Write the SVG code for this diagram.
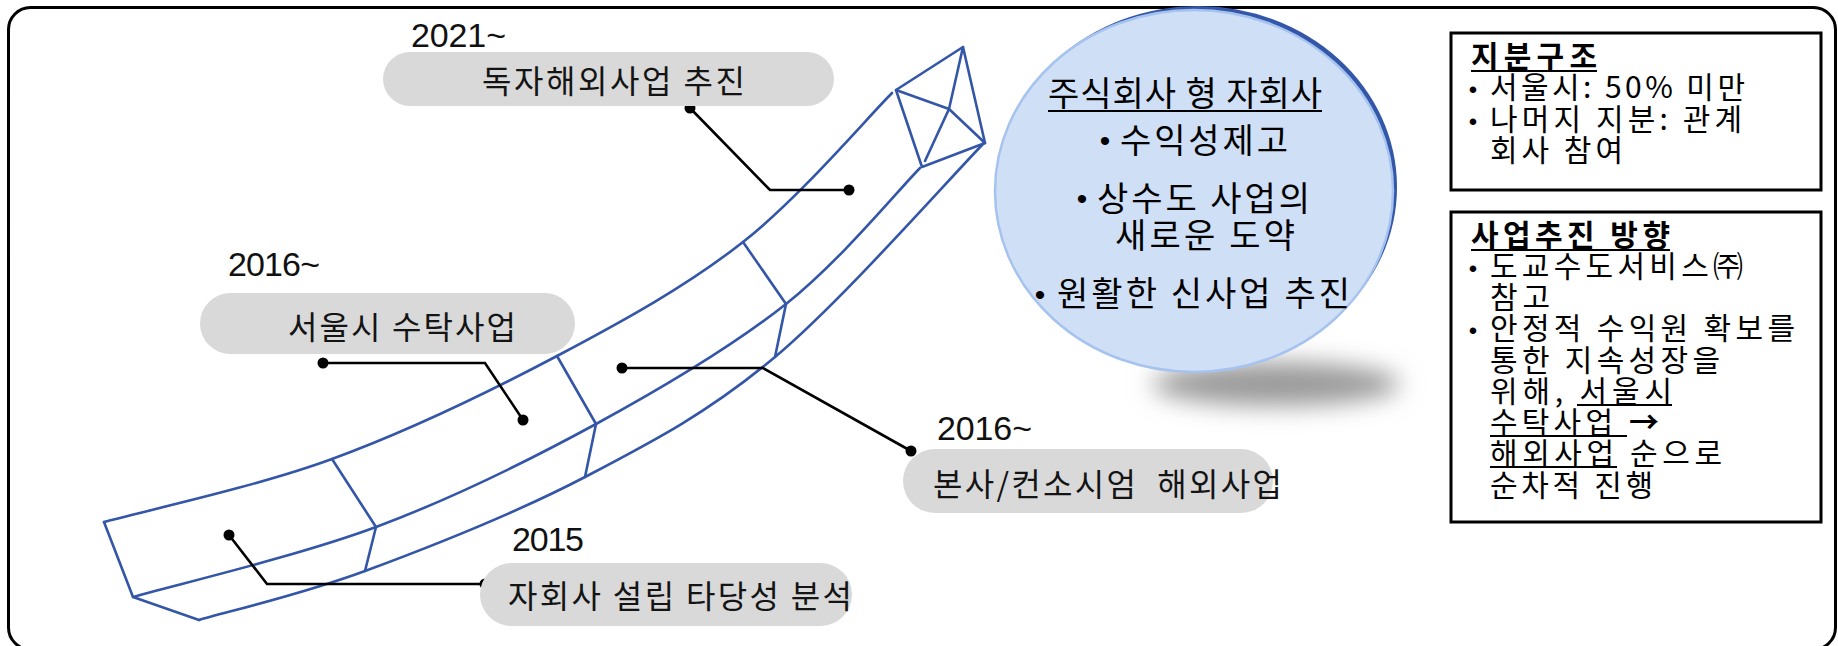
<svg xmlns="http://www.w3.org/2000/svg" width="1838" height="646" viewBox="0 0 1838 646">
  <defs>
    <style>
      .blue { fill: none; stroke: #3456a8; stroke-width: 2.6; stroke-linejoin: round; stroke-linecap: round; }
      .conn { fill: none; stroke: #000; stroke-width: 2.6; stroke-linejoin: miter; }
      .dot { fill: #000; }
      .pill { fill: #d9d9d9; }
      .kr { font-family: "Noto Sans CJK KR", "Noto Sans", sans-serif; fill: #141414; }
      .pt { font-size: 32px; }
      .ct { font-size: 34px; fill: #000; }
      .bt { font-size: 30px; fill: #000; }
      .hd { font-size: 30px; font-weight: bold; fill: #000; }
      .yr { font-family: "Liberation Sans", Arial, sans-serif; font-size: 34px; fill: #111; }
      .bul { font-family: "Liberation Sans", Arial, sans-serif; fill: #000; text-anchor: middle; }
      .ul { stroke: #000; stroke-width: 2.2; }
      .box { fill: #fff; stroke: #000; stroke-width: 3; }
    </style>
    <filter id="soft" x="-60%" y="-150%" width="220%" height="400%">
      <feGaussianBlur stdDeviation="12"/>
    </filter>
  </defs>

  <rect x="0" y="0" width="1838" height="646" fill="#fff"/>
  <!-- outer frame -->
  <rect x="8.5" y="7.5" width="1827" height="642" rx="22" fill="none" stroke="#000" stroke-width="3"/>

  <!-- bent pipe with crystal tip -->
  <g id="pipeline">
    <path class="blue" d="M104,522 C142,511.5 256.5,486.7 332,459 C407.5,431.3 488.5,392.2 557,356 C625.5,319.8 687.2,285.8 743,242 C798.8,198.2 867.2,117.8 892,93"/>
    <path class="blue" d="M133,597 C173.5,585.3 298.8,555.8 376,527 C453.2,498.2 527.7,461.2 596,424 C664.3,386.8 732,346.7 786,304 C840,261.3 897.7,190.7 920,168"/>
    <path class="blue" d="M199,620 C226.7,611.8 300.7,594.8 365,571 C429.3,547.2 516.7,512.7 585,477 C653.3,441.3 708.5,412.7 775,357 C841.5,301.3 949.2,178.7 984,143"/>
    <polyline class="blue" points="104,522 133,597 199,620"/>
    <polyline class="blue" points="332,459 376,527 365,571"/>
    <polyline class="blue" points="557,356 596,424 585,477"/>
    <polyline class="blue" points="743,242 786,304 775,357"/>
    <polygon class="blue" points="896,90 963,47 985,143 922,167"/>
    <polyline class="blue" points="896,90 949,109 985,143"/>
    <polyline class="blue" points="963,47 949,109 925,161"/>
  </g>

  <!-- callout leaders -->
  <g id="connectors">
    <polyline class="conn" points="690,108 770,190 849,190"/>
    <circle class="dot" cx="690" cy="108" r="5.5"/>
    <circle class="dot" cx="849" cy="190" r="5.5"/>
    <polyline class="conn" points="323,363 485,363 523,420"/>
    <circle class="dot" cx="323" cy="363" r="5.5"/>
    <circle class="dot" cx="523" cy="420" r="5.5"/>
    <polyline class="conn" points="622,368 763,368 911,451"/>
    <circle class="dot" cx="622" cy="368" r="5.5"/>
    <circle class="dot" cx="911" cy="451" r="5.5"/>
    <polyline class="conn" points="229,535 267,584 485,584"/>
    <circle class="dot" cx="229" cy="535" r="5.5"/>
    <circle class="dot" cx="485" cy="584" r="5.5"/>
  </g>

  <!-- milestones -->
  <g id="stage-2021">
    <text class="yr" x="411" y="47" textLength="95" lengthAdjust="spacing">2021~</text>
    <rect class="pill" x="383" y="52" width="451" height="54" rx="27"/>
    <text class="kr pt" x="482" y="93" textLength="263" lengthAdjust="spacing">독자해외사업 추진</text>
  </g>
  <g id="stage-2016-seoul">
    <text class="yr" x="228" y="276" textLength="92" lengthAdjust="spacing">2016~</text>
    <rect class="pill" x="200" y="293" width="375" height="61" rx="30.5"/>
    <text class="kr pt" x="288" y="339" textLength="228" lengthAdjust="spacing">서울시 수탁사업</text>
  </g>
  <g id="stage-2016-overseas">
    <text class="yr" x="937" y="440" textLength="95" lengthAdjust="spacing">2016~</text>
    <rect class="pill" x="903" y="449" width="370" height="64" rx="32"/>
    <text class="kr pt" x="933" y="496" textLength="349" lengthAdjust="spacing" xml:space="preserve">본사/컨소시엄  해외사업</text>
  </g>
  <g id="stage-2015">
    <text class="yr" x="512" y="551" textLength="72" lengthAdjust="spacing">2015</text>
    <rect class="pill" x="480" y="563" width="372" height="63" rx="31.5"/>
    <text class="kr pt" x="508" y="608" textLength="344" lengthAdjust="spacing">자회사 설립 타당성 분석</text>
  </g>

  <!-- subsidiary bubble -->
  <g id="subsidiary">
    <ellipse cx="1276" cy="384" rx="124" ry="22" fill="#9a9a9a" filter="url(#soft)"/>
    <ellipse cx="1198" cy="187" rx="199" ry="181" fill="#3456a8"/>
    <ellipse cx="1194" cy="191" rx="199" ry="181" fill="#cfdff6" stroke="#a6c3ef" stroke-width="2.5"/>
    <text class="kr ct" x="1048" y="106" textLength="274" lengthAdjust="spacing">주식회사 형 자회사</text>
    <line class="ul" x1="1048" y1="111" x2="1322" y2="111"/>
    <text class="bul" x="1105" y="151" font-size="30">•</text>
    <text class="kr ct" x="1120" y="153" textLength="168" lengthAdjust="spacing">수익성제고</text>
    <text class="bul" x="1082" y="209" font-size="30">•</text>
    <text class="kr ct" x="1097" y="211" textLength="213" lengthAdjust="spacing">상수도 사업의</text>
    <text class="kr ct" x="1115" y="248" textLength="180" lengthAdjust="spacing">새로운 도약</text>
    <text class="bul" x="1040" y="305" font-size="30">•</text>
    <text class="kr ct" x="1057" y="306" textLength="293" lengthAdjust="spacing">원활한 신사업 추진</text>
  </g>

  <!-- ownership box -->
  <g id="ownership">
    <rect class="box" x="1451" y="33" width="370" height="157"/>
    <text class="kr hd" x="1471" y="67" textLength="126" lengthAdjust="spacing">지분구조</text>
    <line class="ul" x1="1471" y1="71" x2="1597" y2="71"/>
    <text class="bul" x="1473" y="98" font-size="24">•</text>
    <text class="kr bt" x="1490" y="98" textLength="255" lengthAdjust="spacing">서울시: 50% 미만</text>
    <text class="bul" x="1473" y="130" font-size="24">•</text>
    <text class="kr bt" x="1490" y="130" textLength="252" lengthAdjust="spacing">나머지 지분: 관계</text>
    <text class="kr bt" x="1490" y="161" textLength="133" lengthAdjust="spacing">회사 참여</text>
  </g>

  <!-- direction box -->
  <g id="direction">
    <rect class="box" x="1451" y="212" width="370" height="310"/>
    <text class="kr hd" x="1471" y="246" textLength="199" lengthAdjust="spacing">사업추진 방향</text>
    <line class="ul" x1="1471" y1="250" x2="1670" y2="250"/>
    <text class="bul" x="1473" y="277" font-size="24">•</text>
    <text class="kr bt" x="1490" y="277" textLength="253" lengthAdjust="spacing">도교수도서비스㈜</text>
    <text class="kr bt" x="1490" y="308" textLength="60" lengthAdjust="spacing">참고</text>
    <text class="bul" x="1473" y="339" font-size="24">•</text>
    <text class="kr bt" x="1490" y="339" textLength="305" lengthAdjust="spacing">안정적 수익원 확보를</text>
    <text class="kr bt" x="1490" y="371" textLength="230" lengthAdjust="spacing">통한 지속성장을</text>
    <text class="kr bt" x="1490" y="402" textLength="182" lengthAdjust="spacing">위해, 서울시</text>
    <line class="ul" x1="1577" y1="405" x2="1672" y2="405"/>
    <text class="kr bt" x="1490" y="433" textLength="123" lengthAdjust="spacing">수탁사업</text>
    <text class="kr bt" x="1629" y="433" font-weight="bold">→</text>
    <line class="ul" x1="1490" y1="436" x2="1627" y2="436"/>
    <text class="kr bt" x="1490" y="464" textLength="232" lengthAdjust="spacing">해외사업 순으로</text>
    <line class="ul" x1="1490" y1="467" x2="1617" y2="467"/>
    <text class="kr bt" x="1490" y="496" textLength="163" lengthAdjust="spacing">순차적 진행</text>
  </g>
</svg>
